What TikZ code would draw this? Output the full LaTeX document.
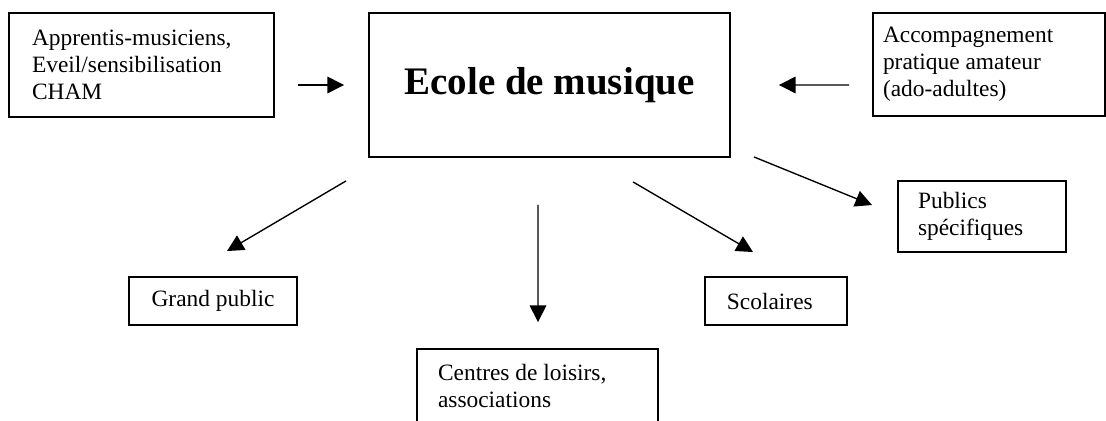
\documentclass[tikz,border=0pt]{standalone}
\usepackage{fontspec}
\setmainfont{Liberation Serif}
\usepackage{tikz}
\usetikzlibrary{arrows.meta}

\begin{document}
\begin{tikzpicture}[x=0.5128pt,y=0.5128pt,yscale=-1,
  box/.style={draw, line width=1pt, inner ysep=0pt, font=\fontsize{12}{13.8}\selectfont},
  arr/.style={line width=0.7pt, -{Triangle[length=8.5pt,width=8.5pt]}}]
\clip (0,0) rectangle (1106,421);

% Boxes
\draw (141.5,65) node [box, align=flush left, inner xsep=11.8pt, text width=112.3pt, minimum height=53.3pt] (appr) {Apprentis-musiciens,\\Eveil/sensibilisation\\CHAM};
\draw (549.5,85) node [box, align=center, minimum width=185.1pt, minimum height=73.8pt, font=\fontsize{20}{24}\selectfont\bfseries] (ecole) {Ecole de musique};
\draw (989,64.5) node [box, align=flush left, inner xsep=5.1pt, text width=108.7pt, minimum height=52.8pt] (accomp) {Accompagnement\\pratique amateur\\(ado-adultes)};
\draw (982,216.5) node [box, align=flush left, inner xsep=10.3pt, text width=65.6pt, minimum height=36.4pt] (publics) {Publics\\spécifiques};
\draw (213,301) node [box, align=center, minimum width=86.2pt, minimum height=24.6pt] (grand) {Grand public};
\draw (776,301) node [box, align=flush left, inner xsep=11.3pt, text width=50.3pt, minimum height=24.6pt] (scol) {Scolaires};
\draw (537.5,386) node [box, align=flush left, inner xsep=10.8pt, text width=102pt, minimum height=37.9pt] (centres) {Centres de loisirs,\\associations};

% Arrows
\draw [arr] ([shift={(23,20)}]appr.east) -- ([shift={(-24,0)}]ecole.west);
\draw [arr] ([shift={(-23,20.5)}]accomp.west) -- ([shift={(48,0)}]ecole.east);
\draw [arr] ([shift={(-22,23)}]ecole.south west) -- ([shift={(14,-25)}]grand.north);
\draw [arr] ([shift={(-11.5,47)}]ecole.south) -- ([shift={(0.5,-26)}]centres.north);
\draw [arr] ([shift={(83.5,24)}]ecole.south) -- ([shift={(-23,-24)}]scol.north);
\draw [arr] ([shift={(23,-1)}]ecole.south east) -- ([shift={(-25,-11.5)}]publics.west);

\end{tikzpicture}
\end{document}
